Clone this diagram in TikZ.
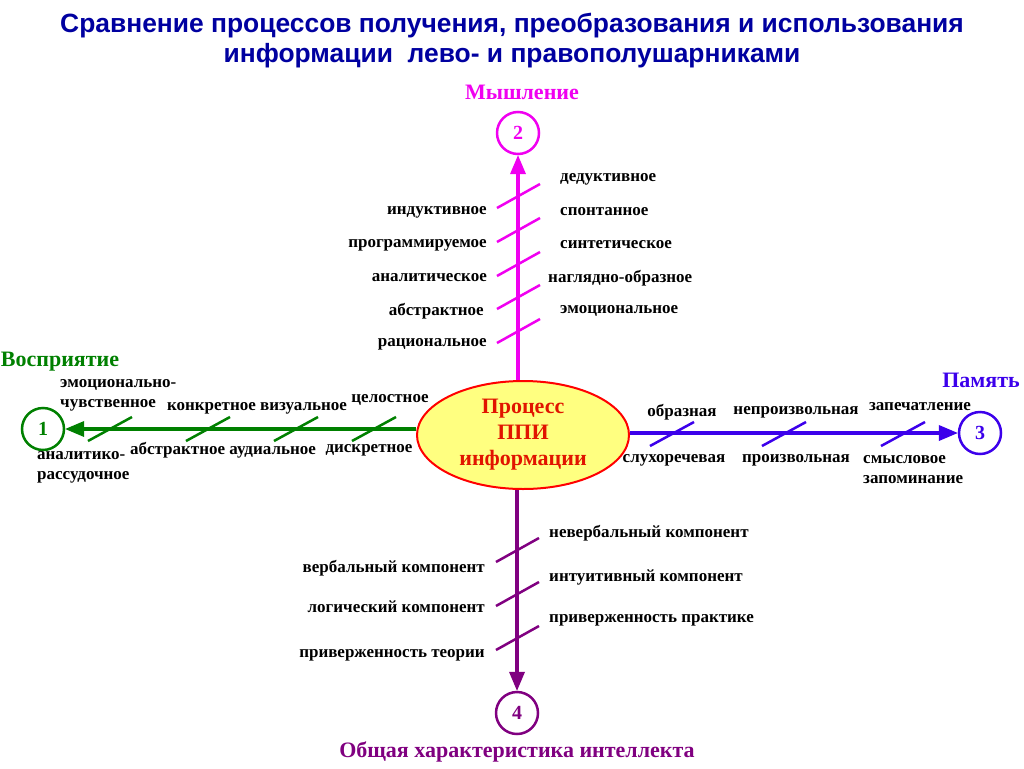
\documentclass[tikz,border=0pt]{standalone}
\usepackage{fontspec}
\usepackage{xcolor}
\setmainfont{Liberation Serif}
\newfontfamily\titlefont{Liberation Sans}
\usetikzlibrary{shapes.geometric}
\usetikzlibrary{arrows}
\definecolor{titleblue}{RGB}{0,0,160}
\definecolor{mgn}{RGB}{240,0,240}
\definecolor{grn}{RGB}{0,128,0}
\definecolor{blu}{RGB}{60,0,235}
\definecolor{prp}{RGB}{128,0,128}
\definecolor{pale}{RGB}{255,255,128}
\definecolor{redtext}{RGB}{225,20,0}

\begin{document}
\begin{tikzpicture}[
 x=1pt, y=-1pt,
 lbl/.style = {font=\bfseries\fontsize{17}{20}\selectfont, inner sep=0pt},
 head/.style = {font=\bfseries\fontsize{22}{26}\selectfont, inner sep=0pt},
 num/.style = {circle, draw, line width=2.5pt, minimum size=42pt, inner sep=0pt,
    font=\bfseries\fontsize{20}{24}\selectfont},
 axis/.style = {line width=3.5pt, -triangle 45},
 tick/.style = {line width=2.5pt}
  ]
\useasboundingbox (0,0) rectangle (1024,768);

% title
\node(title)[font=\titlefont\bfseries\fontsize{26.4}{30}\selectfont, text=titleblue,
  align=center, inner sep=0pt] at (512,41)
  {Сравнение процессов получения, преобразования и использования\\информации\ \ лево- и правополушарниками};

% centre
\node(ppi)[ellipse, draw=red, line width=2pt, fill=pale, minimum width=212pt,
  minimum height=108pt, inner sep=0pt, align=center, text=redtext,
  font=\bfseries\fontsize{22}{26}\selectfont] at (523,435) {Процесс\\ППИ\\информации};

% circles
\node(c1)[num, draw=grn, text=grn] at (43,429) {1};
\node(c2)[num, draw=mgn, text=mgn] at (518,133) {2};
\node(c3)[num, draw=blu, text=blu] at (980,433) {3};
\node(c4)[num, draw=prp, text=prp] at (517,713) {4};

\draw[axis, grn] (c1 -| ppi.west) -- (c1);
\draw[axis, mgn] (ppi.north -| c2) -- (c2);
\draw[axis, blu] (c3 -| ppi.east) -- (c3);
\draw[axis, prp] (ppi.south -| c4) -- (c4);

% headers
\node(h1)[head, text=grn] at (60,362) {Восприятие};
\node(h2)[head, text=mgn] at (522,92) {Мышление};
\node(h3)[head, text=blu] at (981,380) {Память};
\node(h4)[head, text=prp] at (517,752) {Общая характеристика интеллекта};

% ticks
\foreach \y in {196,230,264,297,331}
  \draw[tick, mgn] (518,\y) ++(-21,12) -- ++(43,-24);
\foreach \x in {110,208,296,374}
  \draw[tick, grn] (\x,429) ++(-22,12) -- ++(44,-24);
\foreach \x in {672,784,903}
  \draw[tick, blu] (\x,434) ++(-22,12) -- ++(44,-24);
\foreach \y in {550,594,638}
  \draw[tick, prp] (517,\y) ++(-21,12) -- ++(43,-24);

% thinking
\node(m1)[lbl, anchor=east] at (487,212) {индуктивное};
\node(m2)[lbl, anchor=east] at (487,245) {программируемое};
\node(m3)[lbl, anchor=east] at (487,278) {аналитическое};
\node(m4)[lbl, anchor=east] at (484,311) {абстрактное};
\node(m5)[lbl, anchor=east] at (487,344) {рациональное};
\node(m6)[lbl, anchor=west] at (560,179) {дедуктивное};
\node(m7)[lbl, anchor=west] at (560,212) {спонтанное};
\node(m8)[lbl, anchor=west] at (560,245) {синтетическое};
\node(m9)[lbl, anchor=west] at (548,278) {наглядно-образное};
\node(m10)[lbl, anchor=west] at (560,311) {эмоциональное};

% perception
\node(p1)[lbl, anchor=west, align=left] at (60,395) {эмоционально-\\чувственное};
\node(p2)[lbl] at (257,408) {конкретное визуальное};
\node(p3)[lbl] at (390,400) {целостное};
\node(p4)[lbl, anchor=west, align=left] at (37,467) {аналитико-\\рассудочное};
\node(p5)[lbl] at (223,450) {абстрактное аудиальное};
\node(p6)[lbl] at (369,450) {дискретное};

% memory
\node(r1)[lbl] at (682,412) {образная};
\node(r2)[lbl] at (796,412) {непроизвольная};
\node(r3)[lbl] at (920,407) {запечатление};
\node(r4)[lbl] at (674,460) {слухоречевая};
\node(r5)[lbl] at (796,460) {произвольная};
\node(r6)[lbl, anchor=west, align=left] at (863,470) {смысловое\\запоминание};

% intellect
\node(i1)[lbl, anchor=east] at (485,568) {вербальный компонент};
\node(i2)[lbl, anchor=east] at (485,607) {логический компонент};
\node(i3)[lbl, anchor=east] at (485,655) {приверженность теории};
\node(i4)[lbl, anchor=west] at (549,533) {невербальный компонент};
\node(i5)[lbl, anchor=west] at (549,577) {интуитивный компонент};
\node(i6)[lbl, anchor=west] at (549,620) {приверженность практике};

\end{tikzpicture}
\end{document}
